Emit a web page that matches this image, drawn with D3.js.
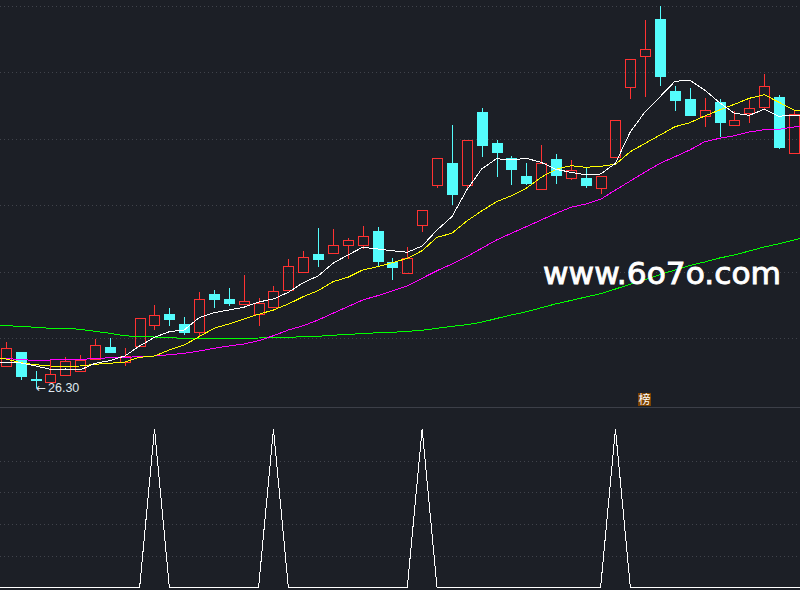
<!DOCTYPE html>
<html>
<head>
<meta charset="utf-8">
<script src="https://cdn.jsdelivr.net/npm/d3@7"></script>
<style>
    html, body { margin: 0; padding: 0; background: #1c1f26; overflow: hidden; }
    svg { display: block; }
</style>
</head>
<body>
<svg id="drawing_region"></svg>
<script>
// candles, one entry per visible trading day
const open = [
    28.53,29.90,27.20,26.93,27.63,28.00,29.23,30.37,28.93,30.53,
    32.57,33.70,32.70,31.93,35.70,35.20,34.73,33.73,34.43,36.07,
    37.93,39.70,39.83,40.57,40.63,42.00,38.90,37.83,42.57,46.63,
    48.80,46.63,53.90,50.80,49.30,47.50,46.23,49.20,47.33,47.30,
    46.33,49.43,56.43,59.47,63.20,56.00,55.20,53.47,54.90,52.57,
    53.80,54.43,55.40,49.83
];
const close = [
    30.27,27.50,27.10,27.67,28.97,29.07,30.57,29.90,29.47,33.27,
    33.57,33.20,31.90,35.17,35.20,34.80,34.97,34.77,35.97,38.47,
    39.37,39.20,40.57,41.07,41.47,39.00,38.40,39.27,44.07,49.27,
    45.70,51.07,50.60,49.90,48.20,46.80,48.77,47.60,48.07,46.60,
    47.47,53.07,59.17,60.17,57.50,55.10,53.60,54.07,52.90,53.07,
    54.27,56.47,50.40,53.67
];
const high = [
    30.93,29.90,27.97,29.17,29.37,29.60,31.20,31.27,30.27,33.27,
    34.60,34.30,33.43,35.90,36.10,36.30,37.60,35.27,36.50,39.20,
    40.00,42.30,42.20,41.30,42.50,42.40,39.30,40.40,44.07,49.27,
    52.60,51.07,54.30,51.10,49.50,48.80,50.60,49.70,49.10,48.30,
    47.47,53.07,59.17,63.10,64.50,56.50,56.30,55.30,55.20,54.00,
    55.10,57.70,55.60,54.10
];
const low = [
    28.43,27.10,26.30,26.93,27.63,28.00,29.23,29.83,28.50,30.53,
    32.10,32.50,31.60,31.43,34.30,34.50,34.70,32.50,34.43,36.07,
    37.93,38.40,39.83,39.20,40.20,38.50,37.10,37.83,41.90,46.30,
    44.60,46.10,49.40,47.40,46.60,46.60,46.23,46.70,47.10,46.30,
    45.70,49.30,55.20,55.40,56.50,54.00,53.50,52.40,51.40,52.57,
    52.80,54.10,50.20,49.83
];

// moving averages: first value is the day before the window, last is the day after
const ma5 = [
    29.00,
    28.83,28.80,28.50,28.17,28.20,28.10,28.77,29.03,29.50,30.50,
    31.37,31.93,32.10,33.33,33.83,34.10,34.37,34.90,35.20,35.87,
    36.83,37.50,38.77,39.60,40.37,40.20,40.03,39.87,40.50,42.10,
    43.43,46.10,48.20,49.23,49.10,49.27,48.87,48.17,47.87,47.63,
    47.70,48.77,51.93,53.93,55.43,56.97,57.07,56.10,54.83,53.77,
    53.57,54.17,53.47,53.60,
    53.60
];
const ma10 = [
    29.27,
    29.20,28.83,28.63,28.50,28.47,28.50,28.67,28.77,28.90,29.37,
    29.50,30.10,30.60,31.43,32.27,32.70,33.20,33.67,34.10,34.70,
    35.43,36.03,36.93,37.37,38.10,38.43,38.83,39.27,40.03,41.37,
    41.77,43.00,44.00,44.93,45.53,46.27,47.37,48.17,48.53,48.37,
    48.47,48.67,49.93,50.77,51.60,52.43,52.83,53.50,54.10,54.67,
    55.27,55.63,54.87,54.10,
    53.92
];
const ma20 = [
    29.28,
    29.23,29.17,29.03,29.10,29.13,29.17,29.23,29.33,29.37,29.43,
    29.50,29.63,29.77,30.00,30.27,30.50,30.70,31.03,31.53,32.10,
    32.53,33.10,33.77,34.43,35.10,35.53,36.00,36.50,37.27,38.03,
    38.70,39.43,40.27,41.10,41.77,42.43,43.10,43.77,44.37,44.70,
    45.17,46.10,47.00,47.90,48.77,49.43,50.10,50.93,51.27,51.53,
    51.90,52.13,52.17,52.40,
    52.50
];
const ma60 = [
    32.57,
    32.53,32.47,32.37,32.27,32.27,32.17,31.97,31.77,31.53,31.43,
    31.40,31.33,31.27,31.27,31.27,31.27,31.27,31.30,31.33,31.37,
    31.43,31.47,31.57,31.67,31.73,31.83,31.87,31.97,32.07,32.27,
    32.47,32.63,32.88,33.25,33.60,33.92,34.32,34.72,35.05,35.40,
    35.73,36.20,36.67,37.13,37.65,38.10,38.55,38.90,39.30,39.60,
    40.00,40.40,40.73,41.10,
    41.45
];

// lower pane signal, same days as the moving averages
const signal = [
    0,
    0,0,0,0,0,0,0,0,0,0,
    1,0,0,0,0,0,0,0,1,0,
    0,0,0,0,0,0,0,0,1,0,
    0,0,0,0,0,0,0,0,0,0,
    0,1,0,0,0,0,0,0,0,0,
    0,0,0,0,
    0
];

const priceGrid = [ 64.5, 57.9, 51.2, 44.6, 37.9, 31.3 ];
const signalGrid = [ 0.2, 0.4, 0.6, 0.8 ];
const maColors = [ '#ffffff', '#ffff00', '#ff00ff', '#00ff00' ];
const lowDay = 2;    // day of the marked low
const badgeDay = 43; // day with the 榜 flag
const badgeLabel = '榜';
const watermark = 'www.6o7o.com';

const width = 800, height = 590;
const upColor = '#ff3232', downColor = '#54fcfc';

const svg = d3.select( '#drawing_region' )
    .attr( 'width', width )
    .attr( 'height', height );

const days = d3.range( open.length );
const xscale = d3.scaleLinear().domain( [0, 53] ).range( [5.8, 793.9] );
const yscale = d3.scaleLinear().domain( [65.1, 24.4] ).range( [0, 407] );
const sigscale = d3.scaleLinear().domain( [0, 1] ).range( [587.5, 429] );
const cx = i => Math.round( xscale( i ) );

// dotted grid through axes with no labels
function grid( scale, values ) {
    const axis = d3.axisLeft( scale )
        .tickValues( values )
        .tickSize( -width )
        .tickFormat( '' );
    const g = svg.append( 'g' ).call( axis );
    g.select( '.domain' ).remove();
    g.selectAll( '.tick line' )
        .attr( 'stroke', '#40434b' )
        .attr( 'stroke-dasharray', '1 3' )
        .attr( 'shape-rendering', 'crispEdges' );
}
grid( yscale, priceGrid );
grid( sigscale, signalGrid );

// pane separator
svg.append( 'line' )
    .attr( 'x1', 0 )
    .attr( 'x2', width )
    .attr( 'y1', yscale( 24.4 ) + 0.5 )
    .attr( 'y2', yscale( 24.4 ) + 0.5 )
    .attr( 'stroke', '#3c3f48' );

// candles
const candles = svg.append( 'g' ).attr( 'shape-rendering', 'crispEdges' );
const isUp = i => close[i] >= open[i];
const color = i => isUp( i ) ? upColor : downColor;
const bodyTop = i => Math.round( yscale( Math.max( open[i], close[i] ) ) );
const bodyBottom = i => Math.round( yscale( Math.min( open[i], close[i] ) ) );

// wicks stop at the body so hollow candles stay empty
candles.selectAll( '.upper' )
    .data( days )
    .join( 'line' )
    .attr( 'class', 'upper' )
    .attr( 'x1', d => cx( d ) + 0.5 )
    .attr( 'x2', d => cx( d ) + 0.5 )
    .attr( 'y1', d => yscale( high[d] ) )
    .attr( 'y2', d => bodyTop( d ) )
    .attr( 'stroke', color );
candles.selectAll( '.lower' )
    .data( days )
    .join( 'line' )
    .attr( 'class', 'lower' )
    .attr( 'x1', d => cx( d ) + 0.5 )
    .attr( 'x2', d => cx( d ) + 0.5 )
    .attr( 'y1', d => bodyBottom( d ) )
    .attr( 'y2', d => yscale( low[d] ) )
    .attr( 'stroke', color );
candles.selectAll( 'rect' )
    .data( days )
    .join( 'rect' )
    .attr( 'x', d => cx( d ) - 5 + 0.5 )
    .attr( 'y', d => bodyTop( d ) + 0.5 )
    .attr( 'width', 10 )
    .attr( 'height', d => Math.max( bodyBottom( d ) - bodyTop( d ), 0 ) )
    .attr( 'fill', d => isUp( d ) ? 'none' : downColor )
    .attr( 'stroke', color );

// moving averages, index 0 sits one day left of the first candle
const line = d3.line()
    .x( ( d, i ) => xscale( i - 1 ) )
    .y( d => yscale( d ) );
[ ma60, ma20, ma10, ma5 ].forEach( ( values, i ) => {
    svg.append( 'path' )
        .attr( 'd', line( values ) )
        .attr( 'fill', 'none' )
        .attr( 'stroke', maColors[3 - i] )
        .attr( 'shape-rendering', 'crispEdges' );
} );

// signal pane
svg.append( 'path' )
    .attr( 'd', d3.line()
        .x( ( d, i ) => xscale( i - 1 ) )
        .y( d => sigscale( d ) )( signal ) )
    .attr( 'fill', 'none' )
    .attr( 'stroke', '#ffffff' )
    .attr( 'shape-rendering', 'crispEdges' );

// low marker
const lowLabel = svg.append( 'text' )
    .attr( 'y', yscale( low[lowDay] ) + 4 )
    .attr( 'fill', '#dfe8f0' );
lowLabel.append( 'tspan' )
    .attr( 'x', cx( lowDay ) )
    .attr( 'font-family', 'DejaVu Sans' )
    .attr( 'font-size', 12 )
    .text( '←' );
lowLabel.append( 'tspan' )
    .attr( 'x', cx( lowDay ) + 12 )
    .attr( 'font-family', 'Liberation Sans' )
    .attr( 'font-size', 12.5 )
    .text( d3.format( '.2f' )( low[lowDay] ) );

// flag above the pane separator
svg.append( 'rect' )
    .attr( 'x', cx( badgeDay ) - 7 )
    .attr( 'y', 393 )
    .attr( 'width', 13 )
    .attr( 'height', 13 )
    .attr( 'fill', '#7c4200' );
svg.append( 'text' )
    .attr( 'x', cx( badgeDay ) - 0.5 )
    .attr( 'y', 404 )
    .attr( 'text-anchor', 'middle' )
    .attr( 'font-family', 'Noto Sans CJK SC' )
    .attr( 'font-size', 12 )
    .attr( 'fill', '#ffffff' )
    .text( badgeLabel );

// watermark
svg.append( 'text' )
    .attr( 'x', 543 )
    .attr( 'y', 284.3 )
    .attr( 'textLength', 238 )
    .attr( 'lengthAdjust', 'spacingAndGlyphs' )
    .attr( 'font-family', 'DejaVu Sans' )
    .attr( 'font-size', 31 )
    .attr( 'fill', '#ffffff' )
    .attr( 'stroke', '#ffffff' )
    .attr( 'stroke-width', 0.9 )
    .text( watermark );
</script>
</body>
</html>
